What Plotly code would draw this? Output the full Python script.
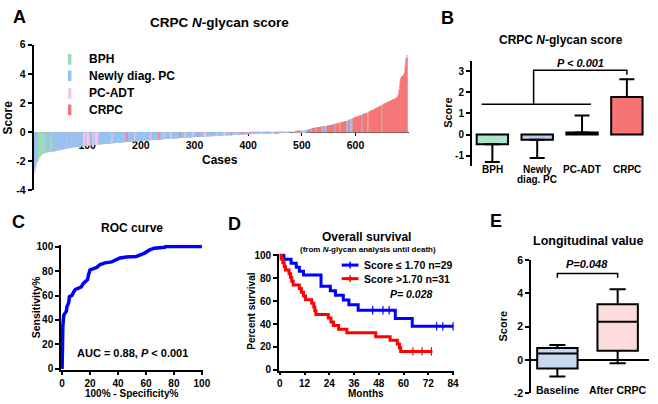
import plotly.graph_objects as go

W, H = 658, 404
FONT = "Arial"


def fx(p):
    return p / W


def fy(p):
    return 1 - p / H


# ---------------- Panel A: waterfall of CRPC N-glycan score (sorted cases) ----------------
A_scores = [
    -2.80, -2.70, -2.55, -2.40, -2.25, -2.10, -2.00, -1.90, -1.82, -1.76, -1.71, -1.66, -1.62, -1.58, -1.55, -1.52, -1.50, -1.48, -1.46, -1.44,
    -1.42, -1.41, -1.40, -1.40, -1.39, -1.38, -1.38, -1.37, -1.37, -1.36, -1.36, -1.35, -1.35, -1.34, -1.34, -1.33, -1.33, -1.32, -1.31, -1.31,
    -1.30, -1.29, -1.28, -1.27, -1.26, -1.26, -1.25, -1.24, -1.23, -1.22, -1.21, -1.21, -1.20, -1.19, -1.18, -1.17, -1.16, -1.15, -1.15, -1.14,
    -1.13, -1.12, -1.12, -1.11, -1.10, -1.10, -1.09, -1.08, -1.08, -1.07, -1.06, -1.06, -1.05, -1.04, -1.04, -1.03, -1.03, -1.02, -1.02, -1.01,
    -1.01, -1.00, -1.00, -0.99, -0.99, -0.98, -0.98, -0.98, -0.97, -0.97,
    -0.96, -0.96, -0.95, -0.95, -0.95, -0.94, -0.94, -0.93, -0.93, -0.93, -0.92, -0.92, -0.91, -0.91, -0.91, -0.90, -0.90, -0.90, -0.89, -0.89,
    -0.89, -0.88, -0.88, -0.88, -0.87, -0.87, -0.87, -0.86, -0.86, -0.86,
    -0.85, -0.85, -0.85, -0.84, -0.84, -0.84, -0.83, -0.83, -0.83, -0.82, -0.82, -0.82, -0.81, -0.81, -0.81, -0.80, -0.80, -0.80, -0.79, -0.79,
    -0.79, -0.78, -0.78, -0.78, -0.77, -0.77, -0.77, -0.76, -0.76, -0.76,
    -0.75, -0.75, -0.75, -0.74, -0.74, -0.74, -0.73, -0.73, -0.73, -0.72, -0.72, -0.72, -0.71, -0.71, -0.71, -0.70, -0.70, -0.70, -0.69, -0.69,
    -0.69, -0.68, -0.68, -0.68, -0.67, -0.67, -0.67, -0.66, -0.66, -0.66, -0.65, -0.65, -0.65, -0.64, -0.64, -0.64, -0.63, -0.63, -0.63, -0.62,
    -0.62, -0.62, -0.62, -0.61, -0.61, -0.61, -0.61, -0.60, -0.60, -0.60,
    -0.59, -0.59, -0.59, -0.59, -0.58, -0.58, -0.58, -0.58, -0.57, -0.57, -0.57, -0.57, -0.56, -0.56, -0.56, -0.56, -0.55, -0.55, -0.55, -0.55,
    -0.54, -0.54, -0.54, -0.54, -0.53, -0.53, -0.53, -0.53, -0.52, -0.52, -0.52, -0.52, -0.51, -0.51, -0.51, -0.51, -0.50, -0.50, -0.50, -0.50,
    -0.49, -0.49, -0.49, -0.49, -0.48, -0.48, -0.48, -0.48, -0.47, -0.47,
    -0.46, -0.46, -0.46, -0.46, -0.45, -0.45, -0.45, -0.45, -0.44, -0.44, -0.44, -0.44, -0.43, -0.43, -0.43, -0.43, -0.42, -0.42, -0.42, -0.42,
    -0.41, -0.41, -0.41, -0.41, -0.40, -0.40, -0.40, -0.40, -0.39, -0.39, -0.39, -0.39, -0.38, -0.38, -0.38, -0.38, -0.37, -0.37, -0.37, -0.37,
    -0.36, -0.36, -0.36, -0.36, -0.36, -0.35, -0.35, -0.35, -0.35, -0.35,
    -0.34, -0.34, -0.34, -0.34, -0.34, -0.33, -0.33, -0.33, -0.33, -0.33, -0.32, -0.32, -0.32, -0.32, -0.32, -0.31, -0.31, -0.31, -0.31, -0.31,
    -0.30, -0.30, -0.30, -0.30, -0.30, -0.29, -0.29, -0.29, -0.29, -0.29, -0.28, -0.28, -0.28, -0.28, -0.28, -0.27, -0.27, -0.27, -0.27, -0.27,
    -0.26, -0.26, -0.26, -0.26, -0.26, -0.25, -0.25, -0.25, -0.25, -0.25,
    -0.24, -0.24, -0.24, -0.24, -0.24, -0.23, -0.23, -0.23, -0.23, -0.23, -0.22, -0.22, -0.22, -0.22, -0.22, -0.21, -0.21, -0.21, -0.21, -0.21,
    -0.20, -0.20, -0.20, -0.20, -0.20, -0.19, -0.19, -0.19, -0.19, -0.19, -0.18, -0.18, -0.18, -0.18, -0.18, -0.17, -0.17, -0.17, -0.17, -0.17,
    -0.16, -0.16, -0.16, -0.16, -0.16, -0.15, -0.15, -0.15, -0.15, -0.15,
    -0.14, -0.14, -0.14, -0.14, -0.14, -0.13, -0.13, -0.13, -0.13, -0.13, -0.12, -0.12, -0.12, -0.12, -0.12, -0.11, -0.11, -0.11, -0.11, -0.11,
    -0.10, -0.10, -0.10, -0.10, -0.10, -0.10, -0.09, -0.09, -0.09, -0.09, -0.09, -0.09, -0.08, -0.08, -0.08, -0.08, -0.08, -0.08, -0.07, -0.07,
    -0.07, -0.07, -0.07, -0.07, -0.06, -0.06, -0.06, -0.06, -0.06, -0.06,
    -0.05, -0.05, -0.05, -0.05, -0.05, -0.05, -0.04, -0.04, -0.04, -0.04, -0.04, -0.04, -0.03, -0.03, -0.03, -0.03, -0.03, -0.03, -0.02, -0.02,
    -0.02, -0.02, -0.02, -0.02, -0.01, -0.01, -0.01, -0.01, -0.01, -0.01,
    0.00, 0.00, 0.00, 0.01, 0.01, 0.01, 0.02, 0.02, 0.02, 0.03, 0.03, 0.03, 0.04, 0.04, 0.04, 0.05, 0.05, 0.05, 0.06, 0.06,
    0.07, 0.08, 0.09, 0.10, 0.11, 0.12, 0.13, 0.14, 0.15, 0.16, 0.17, 0.18, 0.19, 0.20, 0.21, 0.22, 0.23, 0.24, 0.25, 0.26,
    0.27, 0.28, 0.29, 0.30, 0.30,
    0.31, 0.31, 0.32, 0.33, 0.33, 0.34, 0.34, 0.35, 0.36, 0.36, 0.37, 0.38, 0.38, 0.39, 0.39, 0.40, 0.41, 0.41, 0.42, 0.43,
    0.43, 0.44, 0.44, 0.45, 0.46, 0.46, 0.47, 0.48, 0.48, 0.49, 0.50,
    0.51, 0.52, 0.53, 0.54, 0.55, 0.56, 0.57, 0.58, 0.59, 0.60, 0.61, 0.62, 0.63, 0.64, 0.65, 0.66, 0.67, 0.68, 0.69, 0.70,
    0.71, 0.72, 0.73, 0.74, 0.75, 0.76, 0.77, 0.77, 0.78,
    0.80, 0.81, 0.83, 0.85, 0.86, 0.88, 0.90, 0.91, 0.93, 0.94, 0.96, 0.98, 0.99, 1.01, 1.02, 1.04, 1.05, 1.07,
    1.08, 1.10, 1.11, 1.13, 1.14, 1.15, 1.17, 1.18, 1.19, 1.21, 1.22, 1.23, 1.25, 1.26, 1.27, 1.29, 1.30, 1.31, 1.33,
    1.35, 1.37, 1.39, 1.41, 1.43, 1.45, 1.46, 1.48, 1.50, 1.52, 1.54, 1.56, 1.58, 1.60, 1.62, 1.63, 1.65, 1.67,
    1.69, 1.71, 1.73, 1.75, 1.77, 1.79, 1.81, 1.83, 1.85, 1.87, 1.89, 1.91, 1.93, 1.95, 1.97, 1.99, 2.00,
    2.02, 2.04, 2.06, 2.08, 2.10, 2.12, 2.14, 2.15, 2.17, 2.19, 2.21, 2.22, 2.24, 2.26, 2.27, 2.29, 2.31, 2.33,
    2.35, 2.38, 2.42, 2.46, 2.55, 2.70, 2.90, 3.20, 3.50, 3.70, 3.75, 3.80, 3.85, 3.90, 3.95, 4.05, 4.20, 4.50, 4.90, 5.10,
    5.30,
]

# group of each sorted case, as runs (B=BPH, N=Newly diag. PC, A=PC-ADT, C=CRPC)
A_runs = [
    ("N", 7), ("B", 13), ("N", 3), ("B", 2), ("N", 3), ("B", 1), ("N", 4), ("B", 2), ("N", 6),
    ("N", 20), ("A", 1), ("N", 31),
    ("A", 4), ("N", 2), ("A", 6), ("N", 5), ("A", 3), ("N", 2), ("A", 6),
    ("N", 25), ("A", 2), ("N", 25), ("C", 3), ("N", 2),
    ("N", 10), ("A", 2), ("N", 15), ("A", 1), ("N", 12), ("A", 2), ("N", 13),
    ("C", 2), ("N", 8), ("A", 2), ("N", 10), ("A", 3), ("N", 15),
    ("C", 2), ("N", 6), ("A", 2), ("N", 4), ("B", 2), ("N", 8), ("A", 2), ("N", 7), ("C", 2),
    ("N", 10), ("A", 3), ("N", 12), ("C", 1), ("N", 8), ("A", 2), ("N", 10), ("A", 4), ("N", 10), ("C", 1), ("N", 8), ("A", 2), ("N", 9),
    ("C", 2), ("N", 3), ("C", 1), ("A", 2), ("C", 2), ("N", 4), ("C", 2), ("N", 3), ("A", 2), ("C", 1), ("N", 5),
    ("N", 8), ("A", 3), ("N", 10), ("C", 1), ("N", 6), ("A", 4), ("N", 6), ("C", 1), ("N", 7),
    ("B", 2), ("N", 6), ("A", 3), ("N", 5), ("C", 2), ("N", 8),
    ("C", 4), ("N", 2), ("C", 4), ("N", 6), ("A", 2), ("N", 7),
    ("C", 4), ("N", 3), ("C", 6), ("N", 2), ("C", 10), ("N", 4), ("C", 2), ("N", 4),
    ("C", 14), ("N", 2), ("C", 7), ("N", 2), ("C", 11), ("N", 4), ("C", 3), ("N", 5),
    ("C", 17), ("N", 2), ("C", 9), ("A", 1), ("C", 25), ("B", 1), ("C", 46),
]
A_legend_codes = ["B", "N", "A", "C"]
A_legend_names = ["BPH", "Newly diag. PC", "PC-ADT", "CRPC"]
A_colors = {"B": "#9edcb2", "N": "#9cc3ef", "A": "#f4c6e8", "C": "#f47676"}
A_xticks = [100, 200, 300, 400, 500, 600]
A_yticks = [-4, -2, 0, 2, 4, 6]

# ---------------- Panel B: group means ----------------
B_groups = ["BPH", "Newly diag. PC", "PC-ADT", "CRPC"]
B_means = [-0.46, -0.25, 0.10, 1.78]
B_err_plus = [0.0, 0.0, 0.80, 0.84]
B_err_minus = [0.84, 0.86, 0.0, 0.0]
B_colors = ["#aee2cb", "#b8cdea", "#f6d6e9", "#f87373"]
B_yticks = [-1, 0, 1, 2, 3]

# ---------------- Panel C: ROC curve ----------------
C_fpr = [0, 0, 0.5, 1.2, 1.9, 3.0, 3.5, 4.7, 5.2, 7.0, 8.3, 9.5, 11.8, 13.7, 14.9, 16.5, 18.2, 18.9, 20.0, 22.5,
         24.8, 27.2, 30.7, 35.5, 37.8, 41.4, 46.0, 53.0, 55.6, 59.0, 62.6, 66.0, 73.3, 74.5, 100]
C_tpr = [0, 27, 35, 44, 45, 47, 51, 54, 59, 60, 63, 65, 66, 67, 69.5, 71.6, 73, 77, 81, 82,
         83, 85.4, 86.7, 87.5, 89, 90.7, 91.5, 92, 93, 94.7, 97.3, 98.7, 99.5, 100, 100]
C_ticks = [0, 20, 40, 60, 80, 100]

# ---------------- Panel D: Kaplan-Meier overall survival ----------------
D_low_t = [0, 2.0, 5.5, 8.0, 9.5, 11.5, 20.0, 24.5, 27.0, 30.8, 33.5, 38.0, 56.0, 64.2, 84]
D_low_s = [100, 96.6, 93.1, 89.7, 86.2, 82.8, 73.0, 69.0, 65.2, 61.0, 56.8, 52.0, 44.8, 38.0, 38.0]
D_low_cens_t = [45, 50, 53, 76, 79, 84]
D_low_cens_s = [52.0, 52.0, 52.0, 38.0, 38.0, 38.0]
D_high_t = [0, 0.7, 1.5, 2.2, 2.8, 4.5, 5.2, 5.8, 6.5, 9.5, 10.5, 11.5, 12.5, 15.5, 16.5, 17.0, 17.5, 23.5, 24.8, 26.0,
            28.5, 32.5, 46.5, 53.5, 57.0, 58.0, 58.6, 74]
D_high_s = [100, 96.8, 93.5, 90.3, 87.1, 83.9, 80.6, 77.4, 74.2, 71.0, 67.7, 64.5, 61.3, 58.1, 54.8, 51.6, 48.4, 45.2, 41.9, 38.7,
            35.5, 32.3, 29.0, 25.8, 22.6, 19.4, 16.1, 16.1]
D_high_cens_t = [64.5, 69, 73.5]
D_high_cens_s = [16.1, 16.1, 16.1]
D_labels = ["Score ≤ 1.70 n=29", "Score &gt;1.70 n=31"]
D_xticks = [0, 12, 24, 36, 48, 60, 72, 84]
D_yticks = [0, 20, 40, 60, 80, 100]

# ---------------- Panel E: longitudinal box plot ----------------
E_groups = ["Baseline", "After CRPC"]
E_lower = [-1.0, -0.2]
E_q1 = [-0.52, 0.55]
E_median = [0.38, 2.30]
E_q3 = [0.72, 3.35]
E_upper = [0.90, 4.25]
E_colors = ["#c6d9f1", "#fbdcda"]
E_yticks = [-2, 0, 2, 4, 6]

# ================================================================
A_cats = []
for code, count in A_runs:
    A_cats.extend([code] * count)
n = min(len(A_scores), len(A_cats))
A_x = list(range(1, n + 1))

fig = go.Figure()

fig.add_trace(go.Bar(
    x=A_x, y=A_scores[:n], width=1,
    marker=dict(color=[A_colors[c] for c in A_cats[:n]], line=dict(width=0)),
    xaxis="x", yaxis="y", hoverinfo="skip", showlegend=False,
))

fig.add_trace(go.Bar(
    x=list(range(len(B_groups))), y=B_means, width=0.7,
    marker=dict(color=B_colors, line=dict(color="black", width=2)),
    error_y=dict(type="data", symmetric=False, array=B_err_plus, arrayminus=B_err_minus,
                 color="black", thickness=2, width=7.5),
    xaxis="x2", yaxis="y2", hoverinfo="skip", showlegend=False,
))

fig.add_trace(go.Scatter(
    x=C_fpr, y=C_tpr, mode="lines", line=dict(color="#0000ff", width=3.5),
    xaxis="x3", yaxis="y3", hoverinfo="skip", showlegend=False,
))

for t, s, ct, cs, col in [
    (D_low_t, D_low_s, D_low_cens_t, D_low_cens_s, "#0000ff"),
    (D_high_t, D_high_s, D_high_cens_t, D_high_cens_s, "#ff0000"),
]:
    fig.add_trace(go.Scatter(
        x=t, y=s, mode="lines", line=dict(color=col, width=3, shape="hv"),
        xaxis="x4", yaxis="y4", hoverinfo="skip", showlegend=False,
    ))
    fig.add_trace(go.Scatter(
        x=ct, y=cs, mode="markers",
        marker=dict(symbol="line-ns", size=6, line=dict(color=col, width=1.2)),
        xaxis="x4", yaxis="y4", hoverinfo="skip", showlegend=False, cliponaxis=False,
    ))

for i in range(len(E_groups)):
    fig.add_trace(go.Box(
        x=[i], q1=[E_q1[i]], median=[E_median[i]], q3=[E_q3[i]],
        lowerfence=[E_lower[i]], upperfence=[E_upper[i]],
        orientation="v", boxpoints=False, width=0.67, whiskerwidth=0.4,
        fillcolor=E_colors[i], line=dict(color="black", width=2),
        xaxis="x5", yaxis="y5", hoverinfo="skip", showlegend=False,
    ))


def axis_style(**kw):
    base = dict(showgrid=False, zeroline=False, showline=True, linecolor="black", linewidth=1.5,
                ticks="outside", ticklen=4, tickwidth=1.5, tickcolor="black",
                tickfont=dict(size=10, family=FONT, color="black", weight="bold"), fixedrange=True)
    base.update(kw)
    return base


def labels(vals):
    return [str(v) for v in vals]


layout = dict(
    width=W, height=H, margin=dict(l=0, r=0, t=0, b=0),
    paper_bgcolor="white", plot_bgcolor="white", showlegend=False,
    font=dict(family=FONT, color="black"),
    xaxis=axis_style(domain=[fx(32), fx(413.5)], range=[0, 700], anchor="free", position=fy(130),
                     tickvals=A_xticks, linewidth=1, linecolor="#333", ticklen=3, tickwidth=1.2,
                     layer="below traces",
                     tickfont=dict(size=10.5, family=FONT, color="black", weight="bold")),
    yaxis=axis_style(domain=[fy(190), fy(40)], range=[-4, 6], anchor="x",
                     tickvals=A_yticks, ticktext=labels(A_yticks),
                     tickfont=dict(size=10.5, family=FONT, color="black", weight="bold")),
    xaxis2=dict(domain=[fx(477), fx(655)], range=[-0.46, 3.45], anchor="y2", showline=False,
                showticklabels=False, ticks="", showgrid=False, zeroline=False, fixedrange=True),
    yaxis2=axis_style(domain=[fy(165), fy(56.5)], range=[-1.5, 3.5], anchor="x2",
                      tickvals=B_yticks, ticktext=labels(B_yticks)),
    xaxis3=axis_style(domain=[fx(59.9), fx(204.1)], range=[-0.8, 100.8], anchor="y3", tickvals=C_ticks,
                      ticklen=3),
    yaxis3=axis_style(domain=[fy(375.0), fy(246.1)], range=[-0.8, 101.5], anchor="x3", tickvals=C_ticks),
    xaxis4=axis_style(domain=[fx(281.2), fx(459.3)], range=[-0.4, 84.6], anchor="y4", tickvals=D_xticks,
                      ticklen=3),
    yaxis4=axis_style(domain=[fy(375.7), fy(255.1)], range=[-0.6, 101.6], anchor="x4", tickvals=D_yticks),
    xaxis5=dict(domain=[fx(537), fx(657)], range=[-0.44, 1.52], anchor="y5", showline=False,
                showticklabels=False, ticks="", showgrid=False, zeroline=False, fixedrange=True),
    yaxis5=axis_style(domain=[fy(399), fy(262)], range=[-2, 6], anchor="x5",
                      tickvals=E_yticks, ticktext=labels(E_yticks),
                      zeroline=True, zerolinecolor="black", zerolinewidth=1.5,
                      tickfont=dict(size=10.5, family=FONT, color="black", weight="bold")),
)

shapes = []
# Panel A legend swatches
for k, code in enumerate(A_legend_codes):
    yc = [55, 72, 90, 107][k]
    shapes.append(dict(type="rect", xref="paper", yref="paper", x0=fx(67), x1=fx(70.5),
                       y0=fy(yc + 5.5), y1=fy(yc - 5.5), fillcolor=A_colors[code], line=dict(width=0)))
# Panel B significance bracket
shapes.append(dict(type="line", xref="x2", yref="y2", x0=-0.24, x1=2.2, y0=1.44, y1=1.44,
                   line=dict(color="black", width=1.5)))
shapes.append(dict(type="path", xref="x2", yref="y2", path="M 0.92,1.44 V 3.05 H 3.0 V 2.84",
                   line=dict(color="black", width=1.5)))
# Panel D legend symbols
for yc, col in [(267, "#0000ff"), (281, "#ff0000")]:
    shapes.append(dict(type="line", xref="paper", yref="paper", x0=fx(345), x1=fx(362), y0=fy(yc), y1=fy(yc),
                       line=dict(color=col, width=3)))
    shapes.append(dict(type="line", xref="paper", yref="paper", x0=fx(353.5), x1=fx(353.5),
                       y0=fy(yc - 3.5), y1=fy(yc + 3.5), line=dict(color=col, width=1.5)))
# Panel E bracket
shapes.append(dict(type="path", xref="x5", yref="y5", path="M 0,4.95 V 5.2 H 1 V 4.95",
                   line=dict(color="black", width=1.5)))
layout["shapes"] = shapes


def ann(text, x, y, size, xanchor="center", yanchor="middle", angle=0, xref="paper"):
    return dict(text=text, x=(fx(x) if xref == "paper" else x), y=fy(y), xref=xref, yref="paper",
                showarrow=False, xanchor=xanchor, yanchor=yanchor, textangle=angle,
                font=dict(size=size, family=FONT, color="black"))


anns = [
    ann("<b>A</b>", 17.5, 11, 18), ann("<b>B</b>", 452, 12, 18), ann("<b>C</b>", 17, 223, 18),
    ann("<b>D</b>", 236, 225, 18), ann("<b>E</b>", 502, 222, 18),
    ann("<b>CRPC <i>N</i>-glycan score</b>", 221, 17, 13.5),
    ann("<b>Score</b>", 6, 115, 12, angle=-90),
    ann("<b>Cases</b>", 221, 159, 12),
    ann("<b>CRPC <i>N</i>-glycan score</b>", 568, 35, 12),
    ann("<b>Score</b>", 453, 110, 11, angle=-90),
    ann("<b><i>P &lt; 0.001</i></b>", 587, 59, 11),
    ann("<b>ROC curve</b>", 132, 229, 12),
    ann("<b>Sensitivity%</b>", 34, 310, 10.5, angle=-90),
    ann("<b>100% - Specificity%</b>", 132, 399.5, 10),
    ann("<b>AUC = 0.88, <i>P</i> &lt; 0.001</b>", 133, 358, 11),
    ann("<b>Overall survival</b>", 370, 238, 12),
    ann("<b>(from <i>N</i>-glycan analysis until death)</b>", 372, 251, 8),
    ann("<b>Percent survival</b>", 254, 315, 10, angle=-90),
    ann("<b>Months</b>", 370, 399.5, 10),
    ann("<b>" + D_labels[0] + "</b>", 366, 267, 10.5, xanchor="left"),
    ann("<b>" + D_labels[1] + "</b>", 366, 281, 10.5, xanchor="left"),
    ann("<b><i>P= 0.028</i></b>", 415, 297, 10.5),
    ann("<b>Longitudinal value</b>", 595, 242, 12.5),
    ann("<b>Score</b>", 509, 330, 11, angle=-90),
    ann("<b><i>P=0.048</i></b>", 594, 265.5, 11),
]
for k, name in enumerate(A_legend_names):
    anns.append(ann("<b>" + name + "</b>", 86, [55, 72, 90, 107][k], 12, xanchor="left"))
# Panel B category labels (second line of the two-line label drawn separately)
for i, name in enumerate(B_groups):
    parts = name.split(" ", 1) if name.startswith("Newly") else [name]
    for j, part in enumerate(parts):
        anns.append(ann("<b>" + part + "</b>", i, 168.5 + 10 * j, 10, xref="x2"))
for i, name in enumerate(E_groups):
    anns.append(ann("<b>" + name + "</b>", i, 396, 10.5, xref="x5"))
layout["annotations"] = anns

fig.update_layout(**layout)
fig.write_html(
    "out.html",
    config={"displayModeBar": False},
    post_script="document.body.style.margin='0';document.body.style.overflow='hidden';",
)
